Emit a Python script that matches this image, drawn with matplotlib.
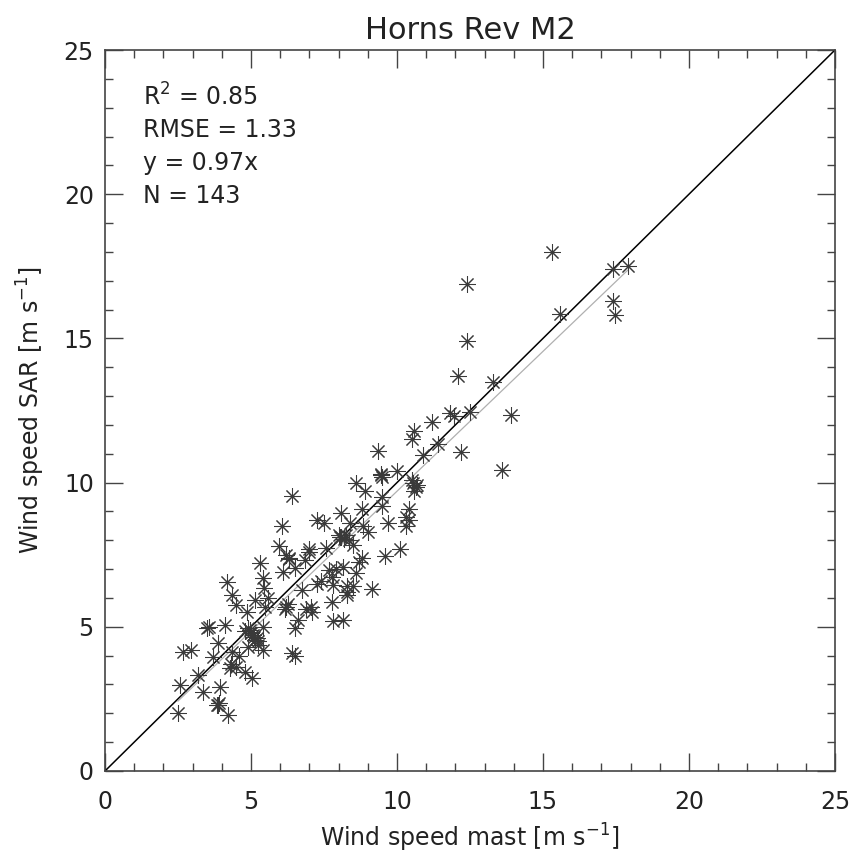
import numpy as np
import matplotlib
matplotlib.use("Agg")
import matplotlib.pyplot as plt
from matplotlib.ticker import MultipleLocator

# Wind speed from the mast (x) and from SAR (y), m/s
mast = [
    15.3, 17.4, 17.9, 15.6, 17.4, 17.45, 12.4, 12.4, 13.3, 12.1,
    13.9, 11.8, 11.95, 12.5, 11.2, 11.4, 12.2, 10.9, 13.6, 10.6,
    10.5, 9.35, 10.0, 10.5, 10.7, 10.6, 10.4, 10.3, 10.3, 10.1,
    9.7, 9.45, 9.5, 8.6, 8.9, 6.4, 9.5, 9.5, 8.8, 8.1,
    7.26, 7.5, 6.06, 8.4, 8.85, 8.05, 8.25, 8.5, 5.96, 6.3,
    7.0, 7.57, 6.85, 8.8, 9.6, 5.3, 6.1, 6.5, 7.67, 7.77,
    8.15, 8.6, 5.4, 7.26, 8.29, 9.14, 5.45, 5.14, 6.74, 8.3,
    4.86, 6.2, 7.05, 7.1, 6.6, 7.77, 7.8, 8.15, 6.5, 4.97,
    5.4, 4.18, 4.35, 4.5, 5.48, 6.16, 3.5, 4.1, 4.8, 5.07,
    5.14, 5.24, 3.87, 5.4, 6.4, 6.5, 2.67, 2.95, 3.7, 4.35,
    4.28, 4.5, 4.8, 5.03, 3.2, 2.57, 3.37, 3.93, 3.87, 4.2,
    2.5, 6.27, 4.9, 8.1, 8.7, 6.3, 7.8, 8.5, 3.9, 3.55,
    5.2, 5.25, 5.1, 8.2, 8.0, 9.45, 10.65, 10.55, 7.0, 4.9,
    6.2, 3.85, 9.0, 7.9, 8.35, 5.0, 4.6, 6.9, 7.4, 8.3,
    10.4, 5.6, 4.3,
]
sar = [
    18.0, 17.4, 17.5, 15.85, 16.3, 15.8, 16.9, 14.9, 13.5, 13.7,
    12.35, 12.4, 12.3, 12.45, 12.1, 11.35, 11.05, 10.95, 10.45, 11.8,
    11.5, 11.1, 10.4, 10.1, 9.9, 9.7, 9.1, 8.8, 8.5, 7.7,
    8.6, 10.3, 10.2, 10.0, 9.7, 9.55, 9.5, 9.2, 9.1, 8.95,
    8.7, 8.6, 8.5, 8.6, 8.5, 8.1, 8.2, 7.85, 7.8, 7.4,
    7.7, 7.74, 7.3, 7.4, 7.45, 7.2, 6.9, 7.05, 6.98, 6.74,
    7.08, 6.87, 6.7, 6.5, 6.4, 6.3, 6.35, 5.94, 6.28, 6.1,
    5.52, 5.7, 5.7, 5.5, 5.24, 5.87, 5.2, 5.24, 4.97, 4.9,
    5.0, 6.55, 6.1, 5.76, 5.7, 5.6, 4.97, 5.07, 4.86, 4.72,
    4.55, 4.38, 4.44, 4.2, 4.1, 4.0, 4.13, 4.2, 3.96, 4.13,
    3.58, 3.6, 3.44, 3.23, 3.33, 2.99, 2.74, 2.92, 2.29, 1.94,
    2.0, 5.8, 4.3, 8.1, 7.26, 7.35, 6.46, 6.4, 2.35, 5.0,
    4.6, 4.5, 4.65, 8.05, 8.2, 10.25, 9.85, 10.0, 7.6, 4.95,
    7.5, 2.3, 8.3, 7.0, 8.0, 4.8, 4.0, 5.6, 6.6, 6.2,
    8.7, 6.0, 3.7,
]

slope = 0.97
stats = ["R$^2$ = 0.85", "RMSE = 1.33", "y = 0.97x", "N = 143"]

ink = "#222222"
plt.rcParams["font.family"] = "DejaVu Sans"

fig = plt.figure(figsize=(8.5, 8.58), dpi=100)
ax = fig.add_axes([0.1235, 0.1014, 0.8588, 0.8403])

# 1:1 line and the fitted line through the origin
ax.plot([0, 25], [0, 25], color="black", lw=1.1)
xfit = np.array([min(mast), max(mast)])
ax.plot(xfit, slope * xfit, color="#b0b0b0", lw=0.9)

ax.plot(mast, sar, linestyle="none", marker=(8, 2, 0), markersize=12,
        markeredgewidth=0.75, color="#3a3a3a")

ax.set_xlim(0, 25)
ax.set_ylim(0, 25)
ax.xaxis.set_major_locator(MultipleLocator(5))
ax.yaxis.set_major_locator(MultipleLocator(5))
ax.xaxis.set_minor_locator(MultipleLocator(1))
ax.yaxis.set_minor_locator(MultipleLocator(1))
ax.tick_params(which="both", direction="in", top=True, right=True,
               color="#444444", width=1)
ax.tick_params(which="major", length=13, labelsize=17, labelcolor=ink)
ax.tick_params(which="minor", length=6)
ax.tick_params(axis="x", pad=14)
ax.tick_params(axis="y", pad=8)
for s in ax.spines.values():
    s.set_color("#444444")
    s.set_linewidth(1.2)

ax.set_xlabel("Wind speed mast [m s$^{-1}$]", fontsize=17, color=ink, labelpad=5)
ax.set_ylabel("Wind speed SAR [m s$^{-1}$]", fontsize=17, color=ink, labelpad=12)
ax.set_title("Horns Rev M2", fontsize=22, color=ink, pad=8)

for i, t in enumerate(stats):
    ax.text(0.052, 0.935 - i * 0.046, t, transform=ax.transAxes,
            fontsize=17, color=ink, va="center", ha="left")

fig.savefig("out.png", dpi=100)
